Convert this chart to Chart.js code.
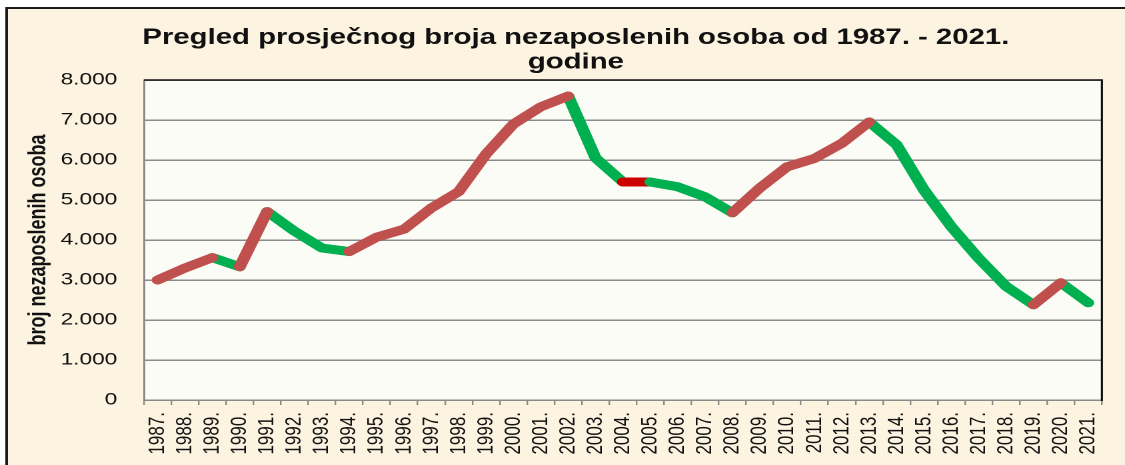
<!DOCTYPE html>
<html>
<head>
<meta charset="utf-8">
<script src="https://cdn.jsdelivr.net/npm/chart.js@4"></script>
<style>
  html, body { margin: 0; padding: 0; background: #fff; overflow: hidden; }
  /* the reference picture is stretched sideways, so draw narrow and stretch */
  #wrap { width: 844px; height: 465px; transform: scaleX(1.33294); transform-origin: 0 0; }
</style>
</head>
<body>
<div id="wrap"><canvas id="myChart"></canvas></div>
<script>
/* ===== DATA ===== */
const years = [
    '1987.', '1988.', '1989.', '1990.', '1991.', '1992.', '1993.', '1994.', '1995.', '1996.',
    '1997.', '1998.', '1999.', '2000.', '2001.', '2002.', '2003.', '2004.', '2005.', '2006.',
    '2007.', '2008.', '2009.', '2010.', '2011.', '2012.', '2013.', '2014.', '2015.', '2016.',
    '2017.', '2018.', '2019.', '2020.', '2021.'
];
const unemployed = [
    3000, 3300, 3560, 3330, 4710, 4220, 3800, 3710, 4070, 4270,
    4800, 5210, 6150, 6900, 7330, 7600, 6050, 5450, 5450, 5330,
    5080, 4680, 5300, 5830, 6040, 6420, 6950, 6380, 5250, 4330,
    3540, 2840, 2380, 2930, 2430
];
const yTicks = [0, 1000, 2000, 3000, 4000, 5000, 6000, 7000, 8000];

const RISE = '#c0504d';
const FALL = '#00b050';
const FLAT = '#cc0000';

/* ===== FRAME + PLOT BACKGROUND ===== */
const framePlugin = {
    id: 'frame',
    beforeDraw(chart) {
        const c = chart.ctx;
        const a = chart.chartArea;
        c.save();
        c.fillStyle = '#ffffff';
        c.fillRect(0, 0, chart.width, chart.height);
        c.fillStyle = '#fdf3e1';
        c.fillRect(5, 8, chart.width, chart.height);
        c.strokeStyle = '#1a1a1a';
        c.lineWidth = 2;
        c.beginPath();
        c.moveTo(5, chart.height);
        c.lineTo(5, 8);
        c.lineTo(chart.width, 8);
        c.stroke();
        c.fillStyle = '#fcfcf6';
        c.fillRect(a.left, a.top, a.right - a.left, a.bottom - a.top);
        c.restore();
    },
    beforeDatasetsDraw(chart) {
        const c = chart.ctx;
        const a = chart.chartArea;
        c.save();
        c.strokeStyle = '#111111';
        c.lineWidth = 1.6;
        c.beginPath();
        c.moveTo(a.left, a.top);
        c.lineTo(a.right, a.top);
        c.lineTo(a.right, a.bottom + 1);
        c.stroke();
        c.restore();
    }
};

function lineSet(colorFn) {
    return {
        data: unemployed,
        borderWidth: 9,
        borderCapStyle: 'round',
        borderJoinStyle: 'round',
        pointRadius: 0,
        tension: 0,
        segment: {
            borderColor: s => colorFn(s.p1.parsed.y - s.p0.parsed.y)
        }
    };
}

/* ===== Chart JS ===== */
const ctx = document.getElementById('myChart').getContext('2d');

const lineChart = new Chart(ctx, {
    type: 'line',
    data: {
        labels: years,
        datasets: [
            // rising parts sit on top
            lineSet(d => d > 0 ? RISE : 'rgba(0,0,0,0)'),
            // falling and flat parts underneath
            lineSet(d => d > 0 ? 'rgba(0,0,0,0)' : (d < 0 ? FALL : FLAT))
        ]
    },
    plugins: [framePlugin],
    options: {
        responsive: true,
        maintainAspectRatio: false,
        animation: false,
        devicePixelRatio: 2,
        layout: {
            padding: { left: 33.5, right: 13.5, top: 0, bottom: 0 }
        },
        plugins: {
            legend: { display: false },
            tooltip: { enabled: false },
            title: {
                display: true,
                text: ['Pregled prosječnog broja nezaposlenih osoba od 1987. - 2021.', 'godine'],
                color: '#111111',
                font: { family: 'Liberation Sans', size: 22, weight: 'bold', lineHeight: 1.1 },
                padding: { top: 26, bottom: 5.6 }
            }
        },
        scales: {
            x: {
                offset: true,
                afterFit: s => { s.height = 65; },
                grid: {
                    offset: true,
                    drawOnChartArea: false,
                    drawTicks: true,
                    tickLength: 5,
                    color: '#8a8a8a',
                    lineWidth: 1.2
                },
                border: { color: '#8a8a8a', width: 1.5 },
                ticks: {
                    autoSkip: false,
                    maxRotation: 90,
                    minRotation: 90,
                    padding: 7,
                    color: '#111111',
                    font: { family: 'Liberation Sans', size: 17 }
                }
            },
            y: {
                min: 0,
                max: 8000,
                afterFit: s => { s.width = 74.5; },
                afterBuildTicks: s => { s.ticks = yTicks.map(v => ({ value: v })); },
                grid: {
                    drawTicks: false,
                    color: '#8a8a8a',
                    lineWidth: 1.5
                },
                border: { color: '#8a8a8a', width: 1.5 },
                ticks: {
                    padding: 20,
                    color: '#111111',
                    font: { family: 'Liberation Sans', size: 17 },
                    callback: v => v.toLocaleString('de-DE')
                },
                title: {
                    display: true,
                    text: 'broj nezaposlenih osoba',
                    color: '#111111',
                    font: { family: 'Liberation Sans', size: 18, weight: 'bold' },
                    padding: { top: -15.2, bottom: 0 }
                }
            }
        }
    }
});
</script>
</body>
</html>
